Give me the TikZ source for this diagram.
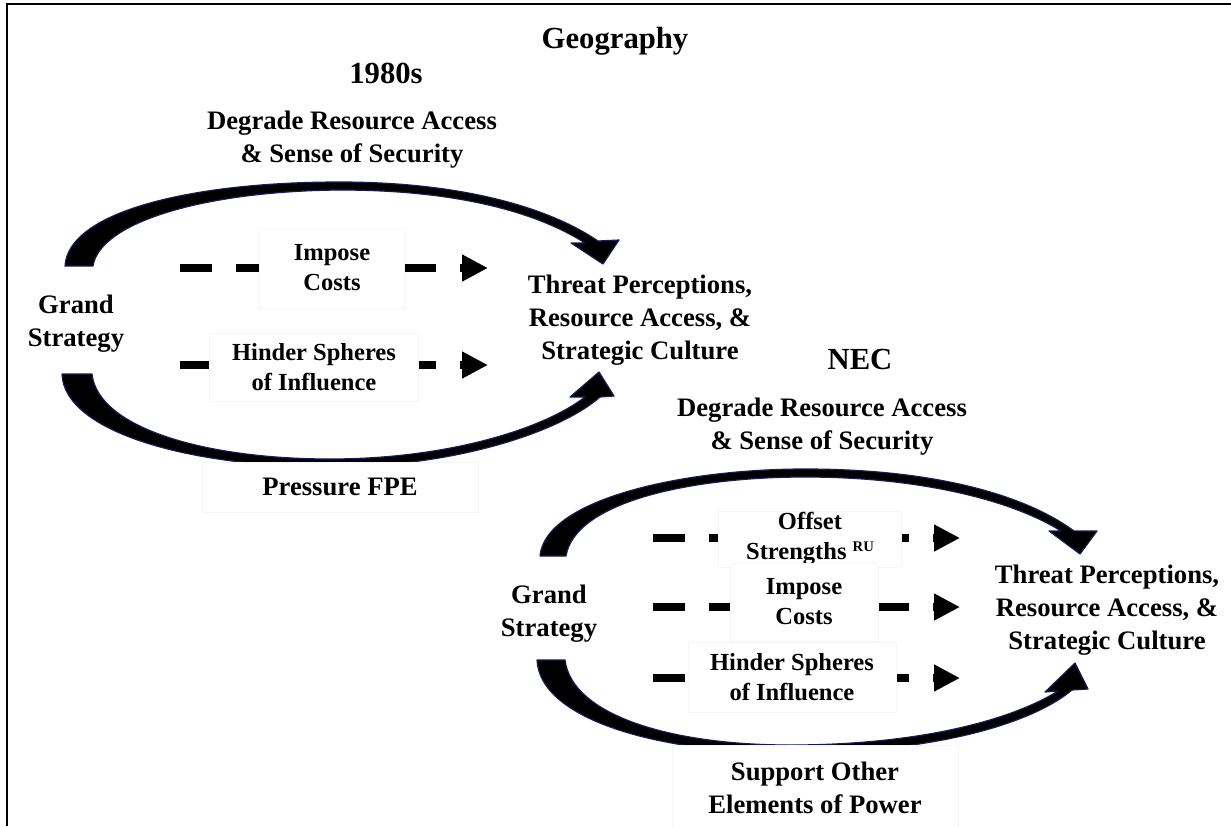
\documentclass[tikz,border=0pt]{standalone}
\usepackage{fontspec}
\setmainfont{Liberation Serif}
\usetikzlibrary{arrows.meta}
\definecolor{arcedge}{RGB}{20,30,85}
\definecolor{faintline}{RGB}{246,246,246}
\begin{document}
\begin{tikzpicture}[x=0.75pt,y=-0.75pt,
  title/.style={font=\bfseries\fontsize{23}{28}\selectfont, inner sep=0pt, anchor=base},
  lbl/.style={font=\bfseries\fontsize{20}{24.75}\selectfont, align=center, inner sep=0pt},
  midlbl/.style={font=\bfseries\fontsize{18.4}{22.5}\selectfont, align=center, inner sep=0pt},
  boxed/.style={fill=white, draw=faintline, line width=0.6pt},
  arcshape/.style={fill=black, draw=arcedge, line width=0.9pt, line join=round},
  dashconn/.style={line width=6pt, dash pattern=on 24pt off 18pt,
    -{Triangle[length=19.5pt,width=19pt]}},
]
\useasboundingbox (0,0) rectangle (1231,826);
\fill[white] (0,0) rectangle (1231,826);

% frame
\draw[line width=1.9pt] (7,826) -- (7,4) -- (1231,4);

% ---------- 1980s: curved arrows ----------
\path[arcshape] (65,266) .. controls (68,212) and (190,182) .. (340,182)
  .. controls (455,182) and (545,205) .. (598,241) -- (619,240) -- (603,264)
  -- (571,243) -- (585,243) .. controls (530,208) and (445,190) .. (340,190)
  .. controls (205,191) and (100,222) .. (93,266) -- cycle;
\path[arcshape] (62,374) .. controls (64,432) and (190,467) .. (330,467)
  .. controls (455,467) and (560,432) .. (600,397) -- (614,396) -- (599,372)
  -- (570,397) -- (585,397) .. controls (545,428) and (450,459) .. (330,459)
  .. controls (205,459) and (98,428) .. (92,374) -- cycle;

% ---------- NEC: curved arrows ----------
\path[arcshape] (540,556) .. controls (545,500) and (680,469) .. (805,469)
  .. controls (935,469) and (1025,495) .. (1074,531) -- (1097,531) -- (1080,554)
  -- (1049,531) -- (1061,531) .. controls (1015,502) and (925,477) .. (805,477)
  .. controls (690,477) and (575,502) .. (566,556) -- cycle;
\path[arcshape] (537,660) .. controls (540,720) and (660,753) .. (790,753)
  .. controls (930,753) and (1030,725) .. (1072,690) -- (1088,689) -- (1075,663)
  -- (1045,692) -- (1058,691) .. controls (1015,718) and (925,745) .. (790,745)
  .. controls (670,745) and (572,715) .. (565,660) -- cycle;

% ---------- dashed connectors ----------
\coordinate (s1) at (180,268); \coordinate (e1) at (488,268);
\coordinate (s2) at (180,365); \coordinate (e2) at (488,365);
\coordinate (s3) at (653,538); \coordinate (e3) at (960,538);
\coordinate (s4) at (653,607); \coordinate (e4) at (960,607);
\coordinate (s5) at (653,678); \coordinate (e5) at (960,678);
\draw[dashconn] (s1) -- (e1);
\draw[dashconn] (s2) -- (e2);
\draw[dashconn] (s3) -- (e3);
\draw[dashconn] (s4) -- (e4);
\draw[dashconn] (s5) -- (e5);

% ---------- labels on the dashed connectors ----------
\node[midlbl, boxed, minimum width=108.75pt, minimum height=60pt] (imp1) at (332,268) {Impose\\Costs};
\node[midlbl, boxed, minimum width=156.75pt, minimum height=51pt] (hin1) at (314,367) {Hinder Spheres\\of Influence};
\node[midlbl, boxed, minimum width=137.25pt, minimum height=42pt] (off2) at (810,539)
  {Offset\\Strengths \raisebox{6pt}{\fontsize{11}{11}\selectfont RU}};
\node[midlbl, boxed, minimum width=111pt, minimum height=58.5pt] (imp2) at (804,602) {Impose\\Costs};
\node[midlbl, boxed, minimum width=156pt, minimum height=52.5pt] (hin2) at (792,677) {Hinder Spheres\\of Influence};

% ---------- titles ----------
\node[title] (geo) at (615,48) {Geography};
\node[title] (yr) at (386,83) {1980s};
\node[title] (nec) at (860,369) {NEC};

% ---------- 1980s labels ----------
\node[lbl] (deg1) at (352,140) {Degrade Resource Access\\\& Sense of Security};
\node[lbl] (gs1) at (76,324) {Grand\\Strategy};
\node[lbl] (thr1) at (640,320) {Threat Perceptions,\\Resource Access, \&\\Strategic Culture};
\node[lbl, boxed, minimum width=207pt, minimum height=37.5pt] (pfe) at (340,487) {Pressure FPE};

% ---------- NEC labels ----------
\node[lbl] (deg2) at (822,427) {Degrade Resource Access\\\& Sense of Security};
\node[lbl] (gs2) at (549,614) {Grand\\Strategy};
\node[lbl] (thr2) at (1107,610) {Threat Perceptions,\\Resource Access, \&\\Strategic Culture};
\node[lbl, boxed, minimum width=214.5pt, minimum height=63.75pt] (sup) at (815,788) {Support Other\\Elements of Power};
\end{tikzpicture}
\end{document}
